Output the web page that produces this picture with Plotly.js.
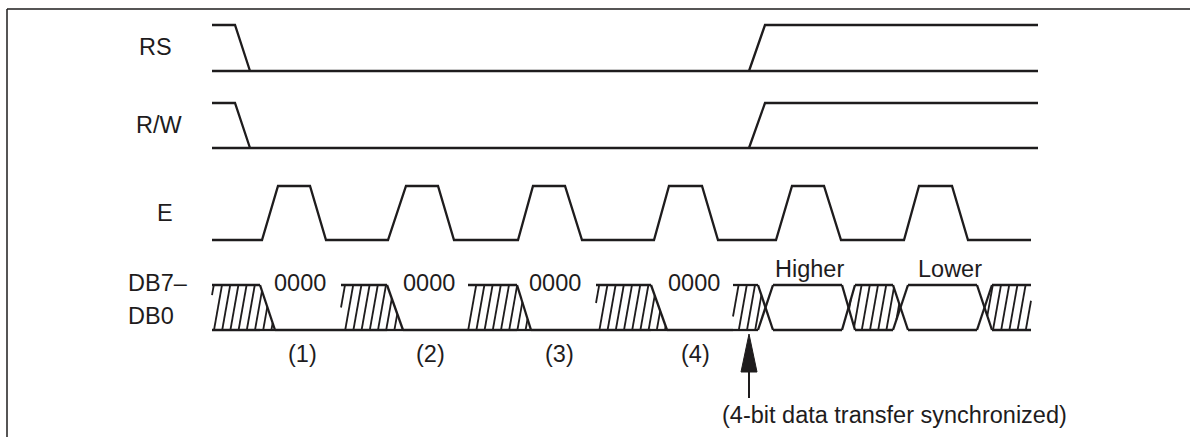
<!DOCTYPE html>
<html><head><meta charset="utf-8">
<script src="https://cdn.plot.ly/plotly-3.0.1.min.js"></script>
<style>html,body{margin:0;padding:0;background:#fff}</style>
</head><body><div id="chart" style="width:1190px;height:437px"></div>
<script>
// ---------- data (times on a common horizontal time scale) ----------
const signalNames = ['RS', 'R/W', 'E', 'DB7–', 'DB0'];
// RS / R/W: [fall start, fall end, rise start, rise end]
const rsEdges = [235, 250, 749, 765];
const rwEdges = [235, 250, 749, 765];
const ctrlSpan = [212, 1038];
// E pulses
const eRiseStart = [262, 388, 518, 654, 776, 904];
const eRiseEnd   = [278, 406, 533, 669, 792, 919];
const eFallStart = [310, 438, 565, 702, 824, 952];
const eFallEnd   = [326, 454, 582, 718, 841, 968];
const eSpan = [212, 1031];
// DB7-DB0 bus: x = don't care, 0 = data 0000, d = valid data
const dbKind  = ['x','0','x','0','x','0','x','0','x','d','x','d','x'];
const dbStart = [212,275,341,403,468,531,596,667,733,773,855,908,992];
const dbEnd   = [260,341,387,468,517,596,651,733,758,842,893,977,1031];
const dataLabels = ['0000','0000','0000','0000','Higher','Lower'];
const stepLabels = ['(1)','(2)','(3)','(4)'];
const syncTime = 749;
const noteText = '(4-bit data transfer synchronized)';

// ---------- lane geometry ----------
const lanes = {
  rs: {hi: 25, lo: 71},
  rw: {hi: 103, lo: 148},
  e:  {hi: 186, lo: 240},
  db: {hi: 285, lo: 330}
};
const INK = '#1e1c1d';
const FONT = {family: 'Liberation Sans, Arial, Helvetica, sans-serif', size: 23.5, color: INK};

function ctrlPath(edges, lane) {
  const [fs, fe, rs, re] = edges;
  return {
    x: [ctrlSpan[0], fs, fe, null, ctrlSpan[0], ctrlSpan[1], null, rs, re, ctrlSpan[1]],
    y: [lane.hi, lane.hi, lane.lo, null, lane.lo, lane.lo, null, lane.lo, lane.hi, lane.hi]
  };
}
function ePath() {
  const L = lanes.e;
  const x = [eSpan[0]], y = [L.lo];
  for (let i = 0; i < eRiseStart.length; i++) {
    x.push(eRiseStart[i], eRiseEnd[i], eFallStart[i], eFallEnd[i]);
    y.push(L.lo, L.hi, L.hi, L.lo);
  }
  x.push(eSpan[1]); y.push(L.lo);
  return {x, y};
}

// bus outline + hatch
const T = lanes.db.hi, B = lanes.db.lo, C = (T + B) / 2;
const busX = [], busY = [];
function seg(x0, y0, x1, y1) { busX.push(x0, x1, null); busY.push(y0, y1, null); }
const hatchPolys = [];
for (let i = 0; i < dbKind.length; i++) {
  const k = dbKind[i], s = dbStart[i], e = dbEnd[i];
  const prev = i > 0 ? dbKind[i - 1] : null, next = i < dbKind.length - 1 ? dbKind[i + 1] : null;
  if (k !== '0') seg(s, T, e, T);
  seg(s, B, e, B);
  if (next) {
    const ns = dbStart[i + 1];
    if (k === 'x' && next === '0') { seg(e, T, ns, B); seg(e, B, ns, B); }
    else if (k !== '0' && next !== '0') { seg(e, T, ns, B); seg(e, B, ns, T); }
  }
  if (k === 'x') {
    const poly = [];
    if (prev === 'd') { const m = (dbEnd[i - 1] + s) / 2; poly.push([s, B], [m, C], [s, T]); }
    else poly.push([s, B], [s, T]);
    if (next === '0') poly.push([e, T], [dbStart[i + 1], B]);
    else if (next === 'd') { const m = (e + dbStart[i + 1]) / 2; poly.push([e, T], [m, C], [e, B]); }
    else poly.push([e, T], [e, B]);
    hatchPolys.push(poly);
  }
}
function cross(ax, ay, bx, by) { return ax * by - ay * bx; }
function clip(p0, p1, poly) {
  let area = 0;
  for (let i = 0; i < poly.length; i++) { const a = poly[i], b = poly[(i + 1) % poly.length]; area += a[0] * b[1] - b[0] * a[1]; }
  const sg = area > 0 ? 1 : -1;
  const dx = p1[0] - p0[0], dy = p1[1] - p0[1];
  let t0 = 0, t1 = 1;
  for (let i = 0; i < poly.length; i++) {
    const a = poly[i], b = poly[(i + 1) % poly.length];
    const ex = b[0] - a[0], ey = b[1] - a[1];
    const num = sg * cross(ex, ey, p0[0] - a[0], p0[1] - a[1]);
    const den = sg * cross(ex, ey, dx, dy);
    if (Math.abs(den) < 1e-9) { if (num < 0) return null; continue; }
    const t = -num / den;
    if (den > 0) t0 = Math.max(t0, t); else t1 = Math.min(t1, t);
  }
  if (t0 >= t1) return null;
  return [[p0[0] + t0 * dx, p0[1] + t0 * dy], [p0[0] + t1 * dx, p0[1] + t1 * dy]];
}
const hx = [], hy = [];
const HSTEP = 8.2, HRUN = 8;
hatchPolys.forEach(poly => {
  const xs = poly.map(p => p[0]);
  const minX = Math.min(...xs) - HRUN, maxX = Math.max(...xs);
  for (let xb = 214 + HSTEP * Math.floor((minX - 214) / HSTEP); xb <= maxX; xb += HSTEP) {
    const r = clip([xb, B], [xb + HRUN, T], poly);
    if (!r) continue;
    const len = Math.hypot(r[1][0] - r[0][0], r[1][1] - r[0][1]);
    if (len < 3) continue;
    hx.push(r[0][0], r[1][0], null); hy.push(r[0][1], r[1][1], null);
  }
});

const rsP = ctrlPath(rsEdges, lanes.rs), rwP = ctrlPath(rwEdges, lanes.rw), eP = ePath();
const lineStyle = {color: INK, width: 2.3};
const traces = [
  {x: rsP.x, y: rsP.y, mode: 'lines', line: lineStyle, hoverinfo: 'skip'},
  {x: rwP.x, y: rwP.y, mode: 'lines', line: lineStyle, hoverinfo: 'skip'},
  {x: eP.x, y: eP.y, mode: 'lines', line: lineStyle, hoverinfo: 'skip'},
  {x: busX, y: busY, mode: 'lines', line: lineStyle, hoverinfo: 'skip'},
  {x: hx, y: hy, mode: 'lines', line: {color: INK, width: 1.8}, hoverinfo: 'skip'},
  // arrow head + stem at the synchronisation point
  {x: [syncTime, syncTime - 8, syncTime + 8, syncTime], y: [334, 372, 372, 334], mode: 'lines', fill: 'toself',
   fillcolor: INK, line: {color: INK, width: 1}, hoverinfo: 'skip'},
  {x: [syncTime, syncTime], y: [370, 398], mode: 'lines', line: {color: INK, width: 2}, hoverinfo: 'skip'}
];

const ann = [];
function txt(text, x, y, xanchor) { ann.push({text, x, y, xref: 'x', yref: 'y', xanchor: xanchor || 'left', yanchor: 'middle', showarrow: false, font: FONT}); }
txt(signalNames[0], 137, 47);
txt(signalNames[1], 134, 125);
txt(signalNames[2], 155, 213);
txt(signalNames[3], 126, 283);
txt(signalNames[4], 126, 316);
const zeroAt = [272, 401, 527, 666];
for (let i = 0; i < 4; i++) txt(dataLabels[i], zeroAt[i], 283);
txt(dataLabels[4], 809, 269, 'center');
txt(dataLabels[5], 950, 269, 'center');
const stepAt = [302, 430, 559, 695];
stepLabels.forEach((s, i) => txt(s, stepAt[i], 354, 'center'));
txt(noteText, 720, 415);

const layout = {
  width: 1190, height: 437, margin: {l: 0, r: 0, t: 0, b: 0},
  paper_bgcolor: '#fff', plot_bgcolor: '#fff', showlegend: false,
  xaxis: {range: [0, 1190], visible: false, fixedrange: true},
  yaxis: {range: [437, 0], visible: false, fixedrange: true},
  annotations: ann,
  shapes: [
    {type: 'line', xref: 'x', yref: 'y', x0: 7, y0: 9, x1: 1190, y1: 9, line: {color: INK, width: 1.5}},
    {type: 'line', xref: 'x', yref: 'y', x0: 7, y0: 9, x1: 7, y1: 437, line: {color: INK, width: 1.5}}
  ]
};
Plotly.newPlot('chart', traces, layout, {staticPlot: true, displayModeBar: false});
</script></body></html>
